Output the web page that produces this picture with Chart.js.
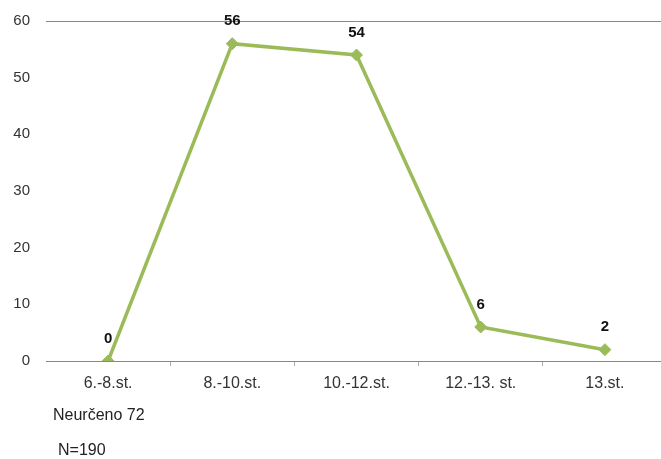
<!DOCTYPE html>
<html>
<head>
<meta charset="utf-8">
<script src="https://cdn.jsdelivr.net/npm/chart.js@4.4.1/dist/chart.umd.min.js"></script>
<style>
  html, body { margin: 0; padding: 0; background: #fff; overflow: hidden; }
  #wrap { position: relative; width: 674px; height: 459px; }
  .note { position: absolute; font-family: "Liberation Sans", Arial, sans-serif; font-size: 16px; color: #222; }
</style>
</head>
<body>
<div id="wrap">
  <canvas id="myChart" width="674" height="459"></canvas>
  <div class="note" style="left:53px; top:406px;">Neurčeno 72</div>
  <div class="note" style="left:58px; top:441px;">N=190</div>
</div>
<script>
// categories and values
const categories = ['6.-8.st.', '8.-10.st.', '10.-12.st.', '12.-13. st.', '13.st.'];
const values = [0, 56, 54, 6, 2];
const yTicks = [0, 10, 20, 30, 40, 50, 60];

const lineColor = '#9BBB59';

// bold value labels above each point
const valueLabels = {
  id: 'valueLabels',
  afterDatasetsDraw(chart) {
    const ctx = chart.ctx;
    const meta = chart.getDatasetMeta(0);
    ctx.save();
    ctx.font = 'bold 15px "Liberation Sans", Arial, sans-serif';
    ctx.fillStyle = '#111';
    ctx.textAlign = 'center';
    ctx.textBaseline = 'bottom';
    meta.data.forEach((pt, i) => {
      ctx.fillText(values[i], pt.x, pt.y - 15);
    });
    ctx.restore();
  }
};

document.addEventListener('DOMContentLoaded', function() {
  const ctx = document.getElementById('myChart').getContext('2d');
  new Chart(ctx, {
    type: 'line',
    data: {
      labels: categories,
      datasets: [{
        data: values,
        borderColor: lineColor,
        backgroundColor: lineColor,
        borderWidth: 3.5,
        pointStyle: 'rectRot',
        pointRadius: 6,
        pointBorderWidth: 1,
        pointBackgroundColor: lineColor,
        pointBorderColor: lineColor,
        tension: 0
      }]
    },
    options: {
      responsive: false,
      animation: false,
      layout: { padding: { top: 21, right: 0, bottom: 58, left: 0 } },
      plugins: { legend: { display: false }, tooltip: { enabled: false } },
      scales: {
        x: {
          offset: true,
          afterFit: axis => { axis.height = 40; },
          border: { display: true, color: '#888', width: 1 },
          grid: {
            offset: true,
            drawOnChartArea: false,
            drawTicks: true,
            tickLength: 5,
            color: c => (c.index === 0) ? 'rgba(0,0,0,0)' : '#aaa'
          },
          ticks: {
            color: '#333',
            padding: 8,
            maxRotation: 0,
            font: { family: '"Liberation Sans", Arial, sans-serif', size: 16 }
          }
        },
        y: {
          min: 0,
          max: 60,
          afterFit: axis => {
            axis.width = 46;
            axis.paddingTop = 0;
            axis.paddingBottom = 0;
          },
          afterBuildTicks: axis => { axis.ticks = yTicks.map(v => ({ value: v })); },
          border: { display: false },
          grid: {
            drawTicks: false,
            color: c => (c.tick && c.tick.value === 60) ? '#888' : 'rgba(0,0,0,0)'
          },
          ticks: {
            color: '#333',
            padding: 16,
            font: { family: '"Liberation Sans", Arial, sans-serif', size: 15 }
          }
        }
      }
    },
    plugins: [valueLabels]
  });
});
</script>
</body>
</html>
